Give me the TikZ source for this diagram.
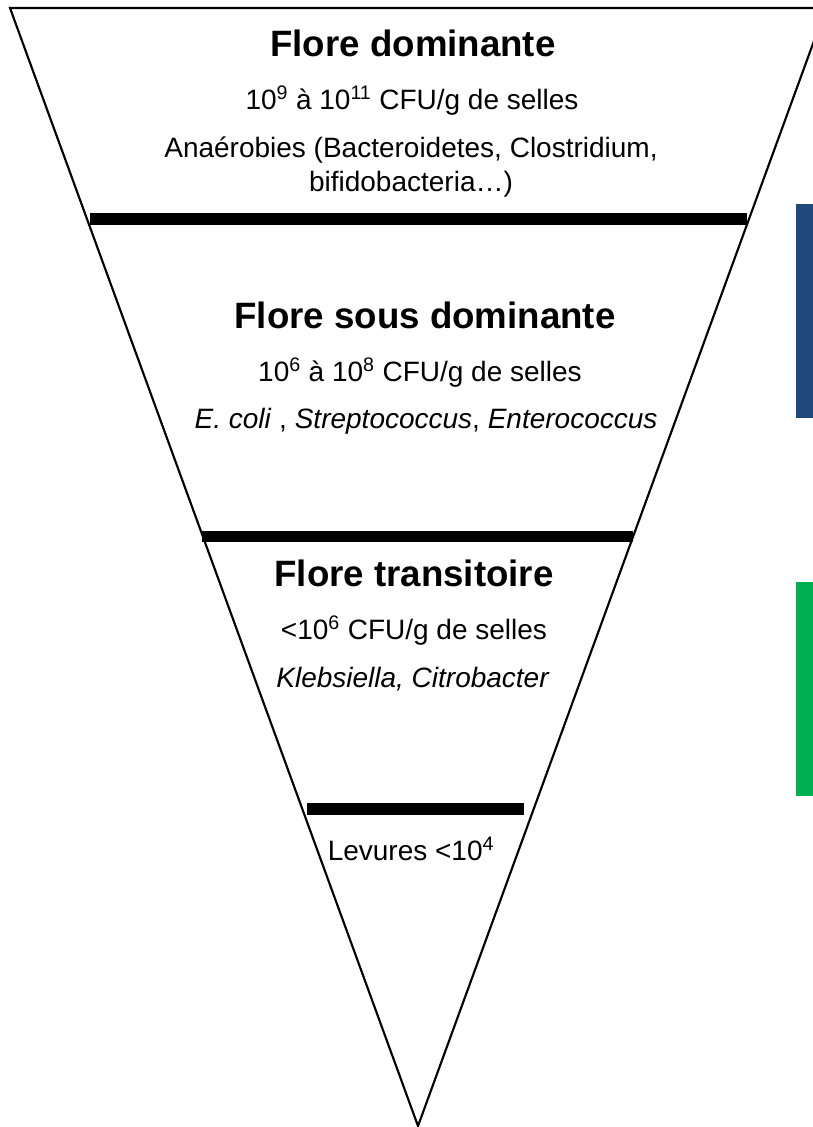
\documentclass[tikz,border=0pt]{standalone}
\usepackage{fontspec}
\setmainfont{Liberation Sans}
\definecolor{bandblue}{RGB}{31,73,125}
\definecolor{bandgreen}{RGB}{0,176,80}
\tikzset{
  title/.style={font=\fontsize{27.5}{30}\selectfont\bfseries, anchor=center, inner sep=0pt},
  body/.style={font=\fontsize{21}{26}\selectfont, anchor=center, inner sep=0pt, align=center},
  divider/.style={fill=black, draw=none},
  funnel/.style={draw=black, line width=1.6pt, line join=miter}
}
\begin{document}
\begin{tikzpicture}[x=0.75pt, y=-0.75pt]
  \useasboundingbox (0,0) rectangle (813,1127);
  \clip (0,0) rectangle (813,1127);
  \fill[white] (0,0) rectangle (813,1127);

  % inverted triangle
  \draw[funnel] (10,8) -- (826,8) -- (418,1126) -- cycle;

  % thick divider bars between the layers
  \fill[divider] (90,213) rectangle (747,225);
  \fill[divider] (202,531) rectangle (633,542);
  \fill[divider] (307,803) rectangle (524,815);

  % coloured side bands
  \fill[bandblue] (796,204) rectangle (813,418);
  \fill[bandgreen] (796,582) rectangle (813,796);

  % dominant flora
  \node[title] (t1) at (413,43) {Flore dominante};
  \node[body] (c1) at (412,101) {10\textsuperscript{9} à 10\textsuperscript{11} CFU/g de selles};
  \node[body] (s1) at (411,167) {Anaérobies (Bacteroidetes, Clostridium,\\bifidobacteria…)};

  % subdominant flora
  \node[title] (t2) at (425,315) {Flore sous dominante};
  \node[body] (c2) at (420,373) {10\textsuperscript{6} à 10\textsuperscript{8} CFU/g de selles};
  \node[body] (s2) at (426,421) {\textit{E. coli} , \textit{Streptococcus}, \textit{Enterococcus}};

  % transient flora
  \node[title] (t3) at (414,573) {Flore transitoire};
  \node[body] (c3) at (414,631) {<10\textsuperscript{6} CFU/g de selles};
  \node[body] (s3) at (413,679) {\textit{Klebsiella, Citrobacter}};

  % yeasts
  \node[body] (y1) at (411,849) {Levures <10\textsuperscript{4}};
\end{tikzpicture}
\end{document}
